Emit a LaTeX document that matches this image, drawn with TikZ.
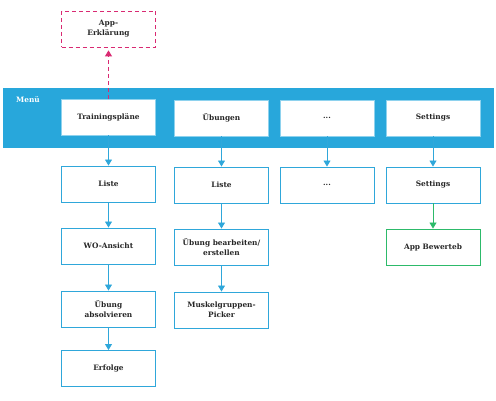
\documentclass[tikz,border=0pt]{standalone}
\usepackage{fontspec}
\setmainfont{DejaVu Serif}
\usetikzlibrary{arrows.meta}
\definecolor{band}{HTML}{28A7DB}
\definecolor{menuline}{HTML}{8ED2EE}
\definecolor{boxline}{HTML}{2FA7DA}
\definecolor{pinkc}{HTML}{D92A72}
\definecolor{greenc}{HTML}{2DBA6A}
\tikzset{
  base/.style={minimum width=94pt,minimum height=36pt,inner sep=1pt,align=center,font=\fontsize{7.4}{10}\selectfont\bfseries,text=black!85},
  menubox/.style={base,fill=white,draw=menuline,line width=0.8pt},
  rowbox/.style={base,fill=white,draw=boxline,line width=0.9pt},
  greenbox/.style={base,fill=white,draw=greenc,line width=0.9pt},
  dashbox/.style={base,fill=white,draw=pinkc,dash pattern=on 4pt off 3pt,line width=0.8pt},
  conn/.style={draw=boxline,line width=0.9pt,-{Triangle[length=6pt,width=7pt]}},
  gconn/.style={draw=greenc,line width=0.9pt,-{Triangle[length=6pt,width=7pt]}},
  pconn/.style={draw=pinkc,line width=0.9pt,dash pattern=on 4pt off 3pt,-{Triangle[length=6pt,width=7pt]},shorten >=3pt}
}
\begin{document}
\begin{tikzpicture}[x=1pt,y=-1pt]
\useasboundingbox (0,0) rectangle (496,401);
\fill[band] (3,88) rectangle (494,148);
\node[anchor=west,text=white,font=\fontsize{7.4}{9}\selectfont\bfseries,inner sep=0pt] (menu) at (16,100) {Menü};
\node[dashbox] (erkl) at (108.5,29) {App-\\Erklärung};
\node[menubox] (tp) at (108.5,117) {Trainingspläne};
\node[menubox] (ub) at (221.5,118) {Übungen};
\node[menubox] (dots) at (327,118) {...};
\node[menubox] (set) at (433,118) {Settings};
\node[rowbox] (l1) at (108.5,184) {Liste};
\node[rowbox] (wo) at (108.5,246) {WO-Ansicht};
\node[rowbox] (abs) at (108.5,309) {Übung\\absolvieren};
\node[rowbox] (erf) at (108.5,368.5) {Erfolge};
\node[rowbox] (l2) at (221.5,185) {Liste};
\node[rowbox] (bea) at (221.5,247) {Übung bearbeiten/\\erstellen};
\node[rowbox] (mus) at (221.5,310) {Muskelgruppen-\\Picker};
\node[rowbox] (d2) at (327,185) {...};
\node[rowbox] (s2) at (433,185) {Settings};
\node[greenbox] (app) at (433,247) {App Bewerteb};
\draw[pconn] (tp.north) -- (erkl.south);
\draw[conn] (tp.south) -- (l1.north);
\draw[conn] (l1.south) -- (wo.north);
\draw[conn] (wo.south) -- (abs.north);
\draw[conn] (abs.south) -- (erf.north);
\draw[conn] (ub.south) -- (l2.north);
\draw[conn] (l2.south) -- (bea.north);
\draw[conn] (bea.south) -- (mus.north);
\draw[conn] (dots.south) -- (d2.north);
\draw[conn] (set.south) -- (s2.north);
\draw[gconn] (s2.south) -- (app.north);
\end{tikzpicture}
\end{document}
